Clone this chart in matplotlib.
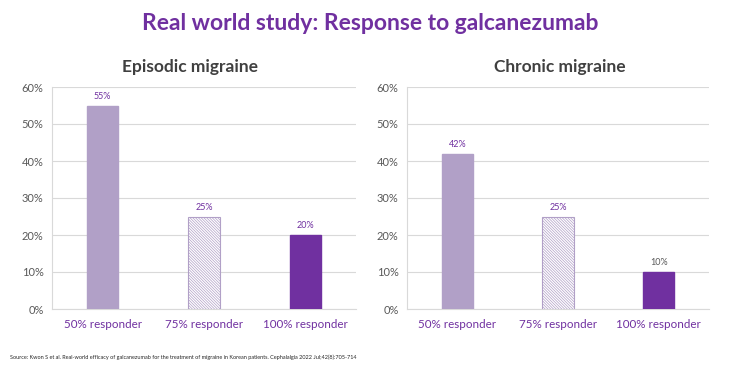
import matplotlib
matplotlib.use("Agg")
import matplotlib.pyplot as plt
from matplotlib.ticker import PercentFormatter

categories = ["50% responder", "75% responder", "100% responder"]
episodic = [55, 25, 20]
chronic = [42, 25, 10]
panel_titles = ["Episodic migraine", "Chronic migraine"]
yticks = [0, 10, 20, 30, 40, 50, 60]

LIGHT = "#B1A0C7"
DARK = "#7030A0"
FONT = "Lato"
plt.rcParams['hatch.linewidth'] = 0.5
plt.rcParams['hatch.color'] = "#A898C4"

fig = plt.figure(figsize=(7.39, 3.69), dpi=100)
W, H = 739, 369

def px_axes(x0, x1, y0, y1):
    return fig.add_axes([x0 / W, 1 - y1 / H, (x1 - x0) / W, (y1 - y0) / H])

axes = [px_axes(52, 356, 87, 309), px_axes(407, 709, 87, 309)]
datas = [episodic, chronic]
label_colors = [[DARK, DARK, DARK], [DARK, DARK, "#595959"]]

for ax, data, title, lcols in zip(axes, datas, panel_titles, label_colors):
    x = list(range(len(categories)))
    bars = ax.bar(x, data, width=0.31, zorder=3)
    bars[0].set_facecolor(LIGHT); bars[0].set_edgecolor(LIGHT)
    bars[1].set_facecolor("white"); bars[1].set_edgecolor(LIGHT)
    bars[1].set_hatch("\\" * 12); bars[1].set_linewidth(0.8)
    bars[2].set_facecolor(DARK); bars[2].set_edgecolor(DARK)
    for b, v, c in zip(bars, data, lcols):
        ax.text(b.get_x() + b.get_width() / 2, v + 1.3, f"{v}%", ha="center", va="bottom",
                fontsize=6.5, color=c, family=FONT)
    ax.set_xlim(-0.5, 2.5)
    ax.set_ylim(0, 60)
    ax.set_yticks(yticks)
    ax.yaxis.set_major_formatter(PercentFormatter(decimals=0))
    ax.grid(axis="y", color="#D9D9D9", linewidth=0.8, zorder=0)
    for s in ["top", "right"]:
        ax.spines[s].set_visible(False)
    ax.spines["left"].set_color("#D9D9D9")
    ax.spines["bottom"].set_color("#D9D9D9")
    ax.tick_params(axis="y", length=0, labelsize=8, labelcolor="#595959", pad=6)
    ax.tick_params(axis="x", length=0, labelsize=8.4, labelcolor=DARK, pad=7)
    ax.set_xticks(x)
    ax.set_xticklabels(categories, family=FONT)
    for t in ax.get_yticklabels():
        t.set_family(FONT)

fig.text(190 / W, 1 - 67 / H, panel_titles[0], ha="center", va="center", fontsize=12.5,
         fontweight="bold", color="#404040", family=FONT)
fig.text(560 / W, 1 - 67 / H, panel_titles[1], ha="center", va="center", fontsize=12.5,
         fontweight="bold", color="#404040", family=FONT)
fig.text(370 / W, 1 - 23 / H, "Real world study: Response to galcanezumab", ha="center",
         va="center", fontsize=16.5, fontweight="bold", color=DARK, family=FONT)
fig.text(10 / W, 1 - 357 / H,
         "Source: Kwon S et al. Real-world efficacy of galcanezumab for the treatment of migraine in Korean patients. Cephalalgia 2022 Jul;42(8):705-714",
         ha="left", va="center", fontsize=4.0, color="#262626", family=FONT)

fig.savefig("out.png", dpi=100)
